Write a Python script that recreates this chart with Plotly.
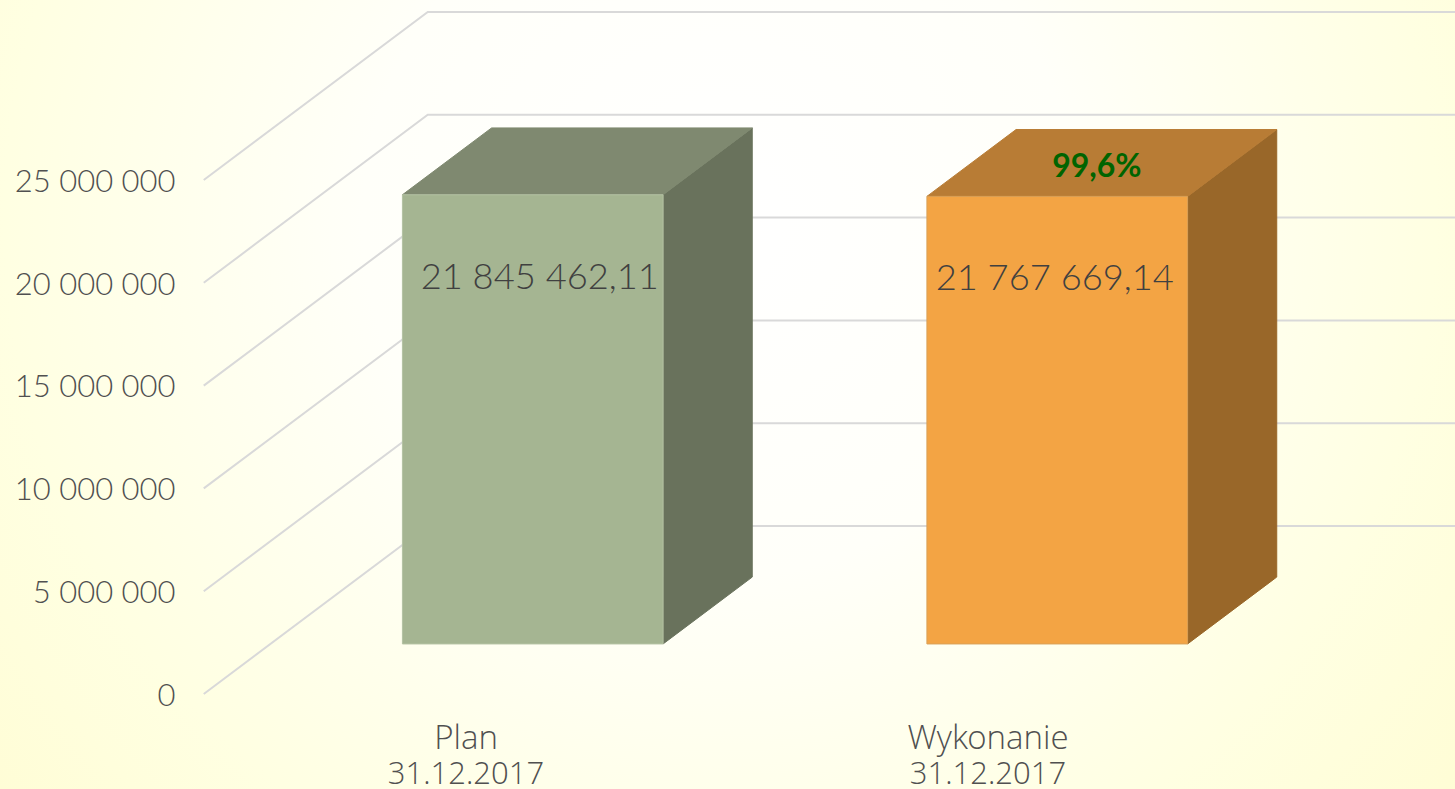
import plotly.graph_objects as go

# --- data ---
categories = ["Plan", "Wykonanie"]
dates = ["31.12.2017", "31.12.2017"]
values = [21845462.11, 21767669.14]
value_labels = ["21 845 462,11", "21 767 669,14"]
percent_label = "99,6%"
y_ticks = [0, 5000000, 10000000, 15000000, 20000000, 25000000]
y_tick_labels = ["0", "5 000 000", "10 000 000", "15 000 000", "20 000 000", "25 000 000"]

# --- styles ---
front_colors = ["#A5B592", "#F3A444"]
side_colors = ["#69725C", "#996729"]
top_colors = ["#7F8970", "#B87C35"]
edge_colors = ["#B4C2A3", "#D9A056"]
GRID = "#D9D9D9"
FONT = "Lato Light, Lato"
FONT_X = "Open Sans Light, Open Sans"
TICK_COLOR = "#505050"

# --- page geometry ---
W, H = 1455, 789
PX_ZERO_Y = 694
PX_PER_UNIT_Y = 514 / 25000000
PX_CAT0 = 466
PX_PER_CAT = 524.5
X_MIN = -PX_CAT0 / PX_PER_CAT
X_MAX = (W - PX_CAT0) / PX_PER_CAT
Y_MIN = -(H - PX_ZERO_Y) / PX_PER_UNIT_Y
Y_MAX = PX_ZERO_Y / PX_PER_UNIT_Y
DEPTH_X = 224 / PX_PER_CAT
DEPTH_Y = 168 / PX_PER_UNIT_Y
WALL_X = -0.5
BAR_HALF = 0.2485
D0, D1 = 0.298, 0.696
LABEL_POS = [0, 1 - 2.5 / PX_PER_CAT]


def proj(x, v, d):
    return x + d * DEPTH_X, v + d * DEPTH_Y


def px_x(p):
    return (p - PX_CAT0) / PX_PER_CAT


def px_y(p):
    return (PX_ZERO_Y - p) / PX_PER_UNIT_Y


def face(pts, fill, edge):
    xs, ys = zip(*pts)
    return go.Scatter(x=list(xs) + [xs[0]], y=list(ys) + [ys[0]], mode="lines", fill="toself",
                      fillcolor=fill, line=dict(color=edge, width=1), hoverinfo="skip", showlegend=False)


fig = go.Figure()

# page background: radial wash, a square centred above the page middle
GX0, GX1, GY0, GY1 = px_x(720 - 1020), px_x(720 + 1020), px_y(220 + 1020), px_y(220 - 1020)
fig.add_trace(go.Scatter(
    x=[GX0, GX1, GX1, GX0, GX0], y=[GY0, GY0, GY1, GY1, GY0],
    mode="none", fill="toself", hoverinfo="skip", showlegend=False,
    fillgradient=dict(type="radial", colorscale=[[0, "#FFFFFF"], [0.35, "#FFFFF9"], [0.7, "#FFFFE2"],
                                                 [0.9, "#FFFDD6"], [1, "#FFFCD0"]]),
))

# walls / gridlines
for t in y_ticks:
    a, b = proj(WALL_X, t, 0), proj(WALL_X, t, 1)
    c = proj(X_MAX + 1, t, 1)
    fig.add_trace(go.Scatter(x=[a[0], b[0], c[0]], y=[a[1], b[1], c[1]], mode="lines",
                             line=dict(color=GRID, width=2), hoverinfo="skip", showlegend=False))

# bars
for i, v in enumerate(values):
    l, r = i - BAR_HALF, i + BAR_HALF
    fig.add_trace(face([proj(r, 0, D0), proj(r, 0, D1), proj(r, v, D1), proj(r, v, D0)],
                       side_colors[i], side_colors[i]))
    fig.add_trace(face([proj(l, v, D0), proj(r, v, D0), proj(r, v, D1), proj(l, v, D1)],
                       top_colors[i], top_colors[i]))
    fig.add_trace(face([proj(l, 0, D0), proj(r, 0, D0), proj(r, v, D0), proj(l, v, D0)],
                       front_colors[i], edge_colors[i]))

# labels inside bars
LABEL_DROP = 85 / PX_PER_UNIT_Y
LABEL_SHIFT = [7 / PX_PER_CAT, -2.5 / PX_PER_CAT]
lab = [proj(i + LABEL_SHIFT[i], v - LABEL_DROP, D0) for i, v in enumerate(values)]
fig.add_trace(go.Scatter(x=[p[0] for p in lab], y=[p[1] for p in lab], mode="text", text=value_labels,
                         textposition="middle center", textfont=dict(family=FONT, size=36.3, color="#404040"),
                         hoverinfo="skip", showlegend=False))
top = proj(1 - 5 / PX_PER_CAT, values[1] - 6 / PX_PER_UNIT_Y, (D0 + D1) / 2)
fig.add_trace(go.Scatter(x=[top[0]], y=[top[1]], mode="text", text=[f"<b>{percent_label}</b>"],
                         textposition="middle center", textfont=dict(family="Lato", size=32, color="#006400"),
                         hoverinfo="skip", showlegend=False))

# second line of the category labels
fig.add_trace(go.Scatter(x=LABEL_POS, y=[px_y(776), px_y(776)], mode="text", text=dates,
                         textposition="middle center", textfont=dict(family=FONT_X, size=31, color=TICK_COLOR),
                         hoverinfo="skip", showlegend=False))

fig.update_layout(
    width=W, height=H, margin=dict(l=0, r=0, t=0, b=0), autosize=False,
    paper_bgcolor="#FFFFFF", plot_bgcolor="rgba(0,0,0,0)", showlegend=False,
    xaxis=dict(range=[X_MIN, X_MAX], domain=[0, 1], anchor="free", position=(H - PX_ZERO_Y) / H, automargin=False,
               tickvals=LABEL_POS, ticktext=categories,
               ticks="outside", ticklen=14, tickcolor="rgba(0,0,0,0)", showgrid=False, zeroline=False, showline=False,
               tickangle=0, tickfont=dict(family=FONT_X, size=33, color=TICK_COLOR)),
    yaxis=dict(range=[Y_MIN, Y_MAX], domain=[0, 1], anchor="free", position=(PX_CAT0 + WALL_X * PX_PER_CAT) / W,
               automargin=False, tickvals=y_ticks, ticktext=y_tick_labels, ticklabelshift=1,
               ticks="outside", ticklen=22, tickcolor="rgba(0,0,0,0)", showgrid=False, zeroline=False, showline=False,
               tickfont=dict(family=FONT, size=31, color=TICK_COLOR)),
)

fig.write_html("out.html", config={"displayModeBar": False},
               post_script="document.body.style.margin='0';document.body.style.overflow='hidden';")
